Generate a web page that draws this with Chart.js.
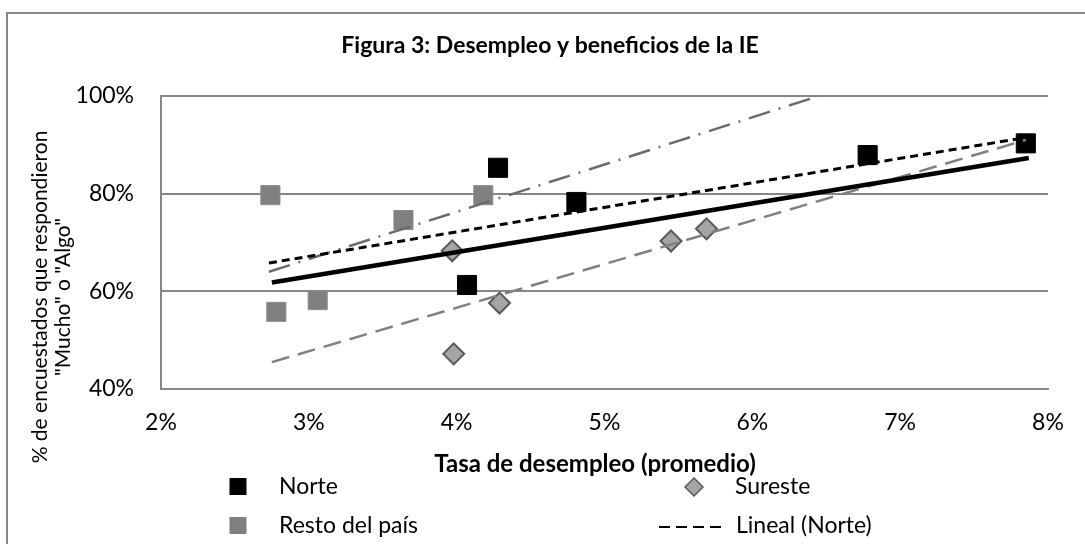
<!DOCTYPE html>
<html>
<head>
<meta charset="utf-8">
<script src="https://cdn.jsdelivr.net/npm/chart.js@4"></script>
<style>
  html, body { margin: 0; padding: 0; background: #fff; overflow: hidden; }
  #wrap { position: relative; width: 1085px; height: 544px; }
</style>
</head>
<body>
<div id="wrap"><canvas id="graficaDesempleo" width="1085" height="544"></canvas></div>
<script>
// Datos (x = tasa de desempleo %, y = % de respuestas)
var norteX = [4.07, 4.28, 4.81, 6.78, 7.85];
var norteY = [61.3, 85.3, 78.3, 87.9, 90.3];
var suresteX = [3.97, 3.98, 4.29, 5.45, 5.69];
var suresteY = [68.3, 47.2, 57.6, 70.3, 72.8];
var restoX = [2.74, 2.78, 3.06, 3.64, 4.18];
var restoY = [79.7, 55.8, 58.2, 74.6, 79.7];

// Extremos de las líneas de tendencia
var tendNorteX = [2.73, 7.85];
var tendNorteY = [65.8, 91.5];
var tendTotalX = [2.75, 7.87];
var tendTotalY = [61.8, 87.3];
var tendSuresteX = [2.75, 7.85];
var tendSuresteY = [45.5, 91.0];
var tendRestoX = [2.73, 6.45];
var tendRestoY = [64.0, 100];

// Ejes
var ejeXMin = 2, ejeXMax = 8, pasoX = 1;
var ejeYMin = 40, ejeYMax = 100, pasoY = 20;

var titulo = 'Figura 3: Desempleo y beneficios de la IE';
var tituloX = 'Tasa de desempleo (promedio)';
var tituloY = ['% de encuestados que respondieron', '"Mucho" o "Algo"'];

var fuente = 'Lato, "Open Sans", sans-serif';
var gris = '#868686';

function puntos(xs, ys) {
    return xs.map(function (x, i) { return { x: x, y: ys[i] }; });
}

var ctx = document.getElementById('graficaDesempleo').getContext('2d');

// Series de puntos
var serieNorte = {
    label: 'Norte', data: puntos(norteX, norteY), order: 2,
    pointStyle: 'rect', pointRadius: 13.5,
    backgroundColor: '#000000', borderColor: '#000000', borderWidth: 1
};
var serieSureste = {
    label: 'Sureste', data: puntos(suresteX, suresteY), order: 2,
    pointStyle: 'rectRot', pointRadius: 10.5,
    backgroundColor: '#a5a5a5', borderColor: '#595959', borderWidth: 2
};
var serieResto = {
    label: 'Resto del país', data: puntos(restoX, restoY), order: 2,
    pointStyle: 'rect', pointRadius: 13.5,
    backgroundColor: '#808080', borderColor: '#8c8c8c', borderWidth: 1
};

// Líneas de tendencia (encima de los marcadores)
function tendencia(label, xs, ys, color, ancho, guiones) {
    return {
        label: label, data: puntos(xs, ys), order: 1,
        showLine: true, pointRadius: 0, fill: false,
        borderColor: color, borderWidth: ancho, borderDash: guiones,
        borderCapStyle: 'butt'
    };
}
var lineaNorte = tendencia('Lineal (Norte)', tendNorteX, tendNorteY, '#000000', 3, [8, 5]);
var lineaTotal = tendencia('Lineal (Total)', tendTotalX, tendTotalY, '#000000', 4.5, []);
var lineaSureste = tendencia('Lineal (Sureste)', tendSuresteX, tendSuresteY, '#808080', 2.5, [18, 9]);
var lineaResto = tendencia('Lineal (Resto del país)', tendRestoX, tendRestoY, '#6b6b6b', 2.5, [22, 9, 2, 9]);

// Marco, títulos y leyenda dibujados a mano
var decoracion = {
    id: 'decoracion',
    beforeDraw: function (chart) {
        var c = chart.ctx;
        c.save();
        c.fillStyle = '#ffffff';
        c.fillRect(0, 0, chart.width, chart.height);
        c.strokeStyle = gris;
        c.lineWidth = 2;
        c.strokeRect(7, 13, 1200, 700);
        c.restore();
    },
    afterDraw: function (chart) {
        var c = chart.ctx;
        c.save();
        c.fillStyle = '#000';
        c.textAlign = 'center';
        c.textBaseline = 'middle';

        c.font = 'bold 23px ' + fuente;
        c.fillText(titulo, 550, 46);

        c.font = 'bold 24px ' + fuente;
        c.fillText(tituloX, 595, 464);

        c.save();
        c.translate(40, 297);
        c.rotate(-Math.PI / 2);
        c.font = '21px ' + fuente;
        c.fillText(tituloY[0], 0, 0);
        c.fillText(tituloY[1], 0, 23);
        c.restore();

        // Leyenda
        c.textAlign = 'left';
        c.font = '23px ' + fuente;
        c.fillStyle = serieNorte.backgroundColor;
        c.fillRect(229.5, 478, 17, 17);
        c.fillStyle = '#000';
        c.fillText(serieNorte.label, 279, 487);

        c.fillStyle = serieResto.backgroundColor;
        c.fillRect(229.5, 517, 17, 17);
        c.fillStyle = '#000';
        c.fillText(serieResto.label, 279, 526);

        c.beginPath();
        c.moveTo(694, 478); c.lineTo(703, 487); c.lineTo(694, 496); c.lineTo(685, 487);
        c.closePath();
        c.fillStyle = serieSureste.backgroundColor;
        c.fill();
        c.strokeStyle = serieSureste.borderColor;
        c.lineWidth = 1.5;
        c.stroke();
        c.fillStyle = '#000';
        c.fillText(serieSureste.label, 735, 487);

        c.beginPath();
        c.setLineDash([11, 6]);
        c.strokeStyle = '#000';
        c.lineWidth = 2;
        c.moveTo(659, 527); c.lineTo(724, 527);
        c.stroke();
        c.setLineDash([]);
        c.fillText(lineaNorte.label, 736, 526);
        c.restore();
    }
};

var grafica = new Chart(ctx, {
    type: 'scatter',
    data: {
        datasets: [lineaNorte, lineaTotal, lineaSureste, lineaResto, serieNorte, serieSureste, serieResto]
    },
    options: {
        responsive: false,
        animation: false,
        events: [],
        layout: { padding: { top: 96, right: 37, left: 0, bottom: 0 } },
        plugins: { legend: { display: false }, title: { display: false }, tooltip: { enabled: false } },
        scales: {
            x: {
                type: 'linear', min: ejeXMin, max: ejeXMax,
                afterFit: function (s) { s.height = 155; },
                ticks: {
                    stepSize: pasoX, padding: 20, color: '#000',
                    font: { family: fuente, size: 23 },
                    callback: function (v) { return v + '%'; }
                },
                grid: { display: false, drawTicks: false },
                border: { display: true, color: gris, width: 2 }
            },
            y: {
                min: ejeYMin, max: ejeYMax,
                afterFit: function (s) { s.width = 161; },
                ticks: {
                    stepSize: pasoY, padding: 27, color: '#000',
                    font: { family: fuente, size: 23 },
                    callback: function (v) { return v + '%'; }
                },
                grid: { color: gris, lineWidth: 2, drawTicks: false },
                border: { display: true, color: gris, width: 2 }
            }
        }
    },
    plugins: [decoracion]
});
</script>
</body>
</html>
